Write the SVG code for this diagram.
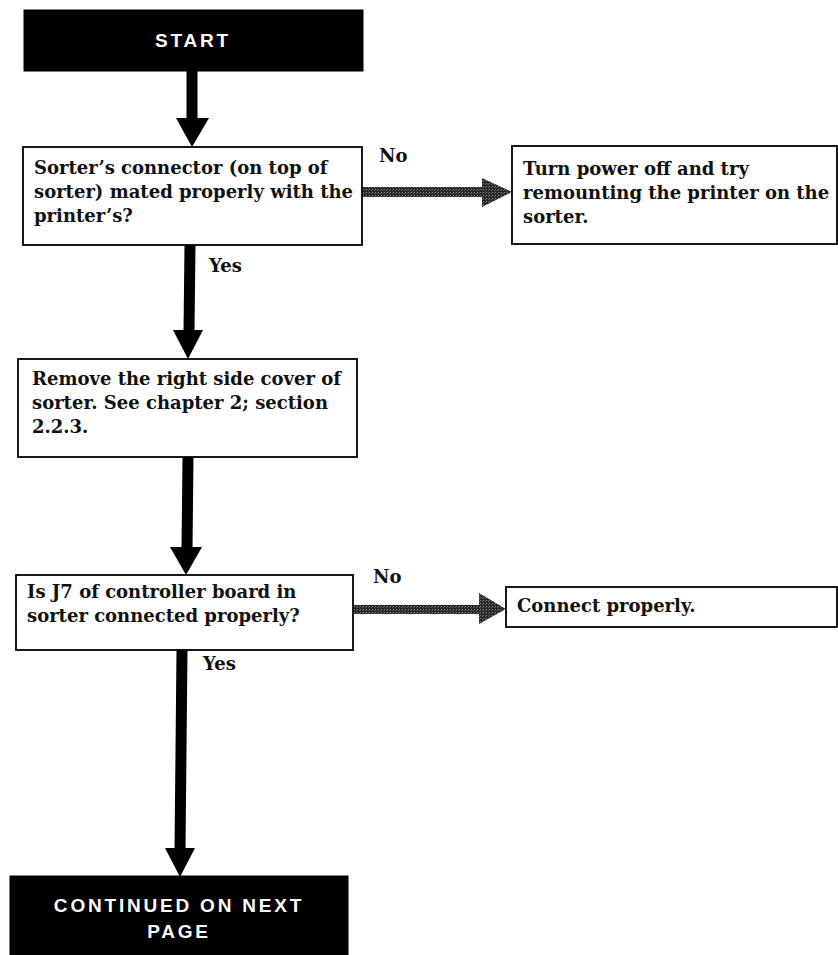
<svg xmlns="http://www.w3.org/2000/svg" width="838" height="955" viewBox="0 0 838 955">
  <defs>
    <pattern id="stipple" width="3" height="3" patternUnits="userSpaceOnUse">
      <rect width="3" height="3" fill="#262626"/>
      <rect x="0" y="0" width="1" height="1" fill="#8a8a8a"/>
      <rect x="2" y="1" width="1" height="1" fill="#666"/>
    </pattern>
    <style>
      .box { fill: #fff; stroke: #000; stroke-width: 1.8; }
      .term { fill: #000; stroke: #000; stroke-width: 1; }
      .txt { font-family: "DejaVu Serif", "Liberation Serif", serif; font-weight: bold; font-size: 18px; fill: #111; }
      .lbl { font-family: "DejaVu Serif", "Liberation Serif", serif; font-weight: bold; font-size: 18px; fill: #111; }
      .ttl { font-family: "Liberation Sans", Arial, sans-serif; font-weight: bold; font-size: 19px; fill: #fff; letter-spacing: 2.8px; text-anchor: middle; }
      .shaft { stroke: #000; stroke-width: 11; fill: none; }
      .head { fill: #000; }
      .gshaft { fill: url(#stipple); }
      .ghead { fill: url(#stipple); }
    </style>
  </defs>
  <rect width="838" height="955" fill="#fff"/>

  <g id="connectors">
    <!-- START -> Q1 -->
    <path class="shaft" d="M192,71 L192,120"/>
    <polygon class="head" points="176,118 209,118 192,147"/>
    <!-- Q1 -> Remove (Yes) -->
    <path class="shaft" d="M190,245 L189,332"/>
    <polygon class="head" points="173,330 203,330 188,359"/>
    <!-- Remove -> Q2 -->
    <path class="shaft" d="M188,457 L187,549"/>
    <polygon class="head" points="170,547 202,547 186,575"/>
    <!-- Q2 -> Continued (Yes) -->
    <path class="shaft" d="M182,650 L180,850"/>
    <polygon class="head" points="165,848 195,848 180,877"/>
    <!-- Q1 -> No action -->
    <rect class="gshaft" x="361" y="187" width="123" height="10"/>
    <polygon class="ghead" points="482,178 512,192 482,207"/>
    <!-- Q2 -> Connect properly -->
    <rect class="gshaft" x="353" y="605" width="128" height="9"/>
    <polygon class="ghead" points="479,593 506,609 479,624"/>
    <text class="lbl" x="379" y="162">No</text>
    <text class="lbl" x="209" y="272">Yes</text>
    <text class="lbl" x="373" y="583">No</text>
    <text class="lbl" x="203" y="670">Yes</text>
  </g>

  <g id="start">
    <rect class="term" x="24" y="10" width="339" height="61"/>
    <text class="ttl" x="193" y="47">START</text>
  </g>

  <g id="q1">
    <rect class="box" x="23" y="147" width="339" height="98"/>
    <text class="txt" x="34" y="174">Sorter’s connector (on top of</text>
    <text class="txt" x="34" y="198">sorter) mated properly with the</text>
    <text class="txt" x="34" y="222">printer’s?</text>
  </g>

  <g id="remount">
    <rect class="box" x="512" y="146" width="325" height="98"/>
    <text class="txt" x="523" y="175">Turn power off and try</text>
    <text class="txt" x="523" y="199">remounting the printer on the</text>
    <text class="txt" x="523" y="223">sorter.</text>
  </g>

  <g id="remove-cover">
    <rect class="box" x="18" y="359" width="339" height="98"/>
    <text class="txt" x="32" y="385">Remove the right side cover of</text>
    <text class="txt" x="32" y="409">sorter. See chapter 2; section</text>
    <text class="txt" x="32" y="433">2.2.3.</text>
  </g>

  <g id="q2">
    <rect class="box" x="16" y="575" width="337" height="75"/>
    <text class="txt" x="27" y="598">Is J7 of controller board in</text>
    <text class="txt" x="27" y="622">sorter connected properly?</text>
  </g>

  <g id="connect">
    <rect class="box" x="506" y="587" width="331" height="40"/>
    <text class="txt" x="517" y="612">Connect properly.</text>
  </g>

  <g id="continued">
    <rect class="term" x="10" y="876" width="338" height="80"/>
    <text class="ttl" x="179" y="912">CONTINUED ON NEXT</text>
    <text class="ttl" x="179" y="938">PAGE</text>
  </g>
</svg>
